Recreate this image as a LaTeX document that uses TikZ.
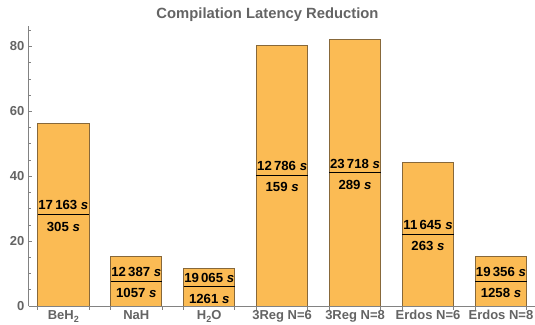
\documentclass[tikz,border=0pt]{standalone}
\usepackage{fontspec}
\setmainfont{Liberation Sans}
\definecolor{barfill}{RGB}{251,187,84}
\definecolor{baredge}{RGB}{135,104,58}
\definecolor{axisgray}{RGB}{130,130,130}
\definecolor{labelgray}{RGB}{100,100,100}
\newcommand\subtxt[1]{\raisebox{-0.35ex}{\fontsize{9}{9}\selectfont #1}}
\begin{document}
\begin{tikzpicture}[x=1pt,y=1pt,
  barbox/.style={fill=barfill,draw=baredge,line width=0.9pt},
  divider/.style={draw=black,line width=1pt},
  axisline/.style={draw=axisgray,line width=0.8pt},
  ticklabel/.style={text=labelgray,font=\fontsize{13}{13}\selectfont\bfseries,inner sep=0pt},
  barlabel/.style={text=black,font=\fontsize{13.2}{13.2}\selectfont\bfseries,inner sep=0pt,anchor=base},
  titlelabel/.style={text=labelgray,font=\fontsize{14.8}{14.8}\selectfont\bfseries,inner sep=0pt}]
\useasboundingbox (0,0) rectangle (535,324);
% plot origin and vertical scale (pt per unit)
\def\ox{28.5}
\def\oy{18}
\def\sc{3.245}
% title
\node[titlelabel] (title) at (267.5,309.5) {Compilation Latency Reduction};
% bars with the two latencies on each
\foreach \i/\h/\up/\dn/\lab in {
  0/56.27/{17\,163}/{305}/{BeH\subtxt{2}},
  1/15.12/{12\,387}/{1057}/{NaH},
  2/11.72/{19\,065}/{1261}/{H\subtxt{2}O},
  3/80.42/{12\,786}/{159}/{3Reg N=6},
  4/82.07/{23\,718}/{289}/{3Reg N=8},
  5/44.28/{11\,645}/{263}/{Erdos N=6},
  6/15.39/{19\,356}/{1258}/{Erdos N=8}} {
  \pgfmathsetmacro\xl{37.7+72.93*\i}
  \pgfmathsetmacro\xr{\xl+51.3}
  \pgfmathsetmacro\xc{\xl+25.65}
  \pgfmathsetmacro\yt{\oy+\sc*\h}
  \pgfmathsetmacro\ym{\oy+\sc*\h/2}
  \draw[barbox] (\xl,\oy) rectangle (\xr,\yt);
  \coordinate (dl\i) at (\xl,\ym);
  \coordinate (dr\i) at (\xr,\ym);
  \draw[divider] (dl\i) -- (dr\i);
  \node[barlabel] (top\i) at (\xc,\ym+4.8) {\up\ \textit{s}};
  \node[barlabel] (bot\i) at (\xc,\ym-16.3) {\dn\ \textit{s}};
  \node[ticklabel,anchor=base] (cat\i) at (\xc,4.2) {\lab};
  \draw[axisline] (\xl,\oy) -- ++(0,-4);
  \draw[axisline] (\xr,\oy) -- ++(0,-4);
}
% axes
\coordinate (O) at (\ox,\oy);
\coordinate (xend) at (535,\oy);
\coordinate (yend) at (\ox,298);
\draw[axisline] (O) -- (xend);
\draw[axisline] (O) -- (yend);
% y ticks
\foreach \v in {0,20,40,60,80} {
  \draw[axisline] (\ox,\oy+\sc*\v) -- ++(3.8,0);
  \node[ticklabel,anchor=east] (ytick\v) at (\ox-4,\oy+\sc*\v) {\v};
}
\foreach \v in {5,10,15,25,30,35,45,50,55,65,70,75,85} {
  \draw[axisline,line width=0.6pt] (\ox,\oy+\sc*\v) -- ++(2.3,0);
}
\end{tikzpicture}
\end{document}
